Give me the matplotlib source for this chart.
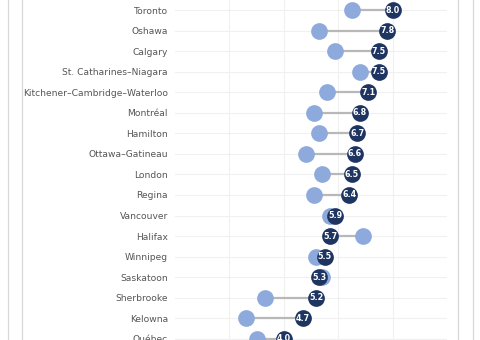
import matplotlib
matplotlib.use("Agg")
import matplotlib.pyplot as plt
from matplotlib.lines import Line2D

cities = ["Toronto", "Oshawa", "Calgary", "St. Catharines–Niagara",
          "Kitchener–Cambridge–Waterloo", "Montréal", "Hamilton",
          "Ottawa–Gatineau", "London", "Regina", "Vancouver", "Halifax",
          "Winnipeg", "Saskatoon", "Sherbrooke", "Kelowna", "Québec"]
current = [8.0, 7.8, 7.5, 7.5, 7.1, 6.8, 6.7, 6.6, 6.5, 6.4, 5.9, 5.7,
           5.5, 5.3, 5.2, 4.7, 4.0]
previous = [6.5, 5.3, 5.9, 6.8, 5.6, 5.1, 5.3, 4.8, 5.4, 5.1, 5.7, 6.9,
            5.2, 5.4, 3.3, 2.6, 3.0]
x_ticks = [2, 4, 6, 8, 10]

W, H = 480, 340
fig = plt.figure(figsize=(4.8, 3.4), dpi=100)
fig.patch.set_facecolor("white")

ax = fig.add_axes([175 / W, 0, (447 - 175) / W, 1])
ypos = list(range(len(cities)))
sp = 20.55
ax.set_ylim(ypos[0] + (H - 10) / sp, ypos[0] - 10 / sp)
ax.set_xlim(0, 10)

for y, a, b in zip(ypos, previous, current):
    ax.plot([a, b], [y, y], color="#b8b8b8", lw=1.6, zorder=2, solid_capstyle="butt")
ax.scatter(previous, ypos, s=145, color="#8eaadc", zorder=3, linewidths=0)
ax.scatter(current, ypos, s=145, color="#1e3461", zorder=4, linewidths=0)
for y, v in zip(ypos, current):
    ax.text(v, y, f"{v:.1f}", color="white", fontsize=5.8, fontweight="bold",
            ha="center", va="center", zorder=5)

ax.set_xticks(x_ticks)
ax.set_xticklabels([])
ax.set_yticks(ypos)
ax.set_yticklabels(cities, fontsize=6.6, color="#555555")
ax.tick_params(axis="both", length=0)
ax.tick_params(axis="y", pad=5)
ax.grid(True, color="#f0f0f0", lw=0.8, zorder=0)
ax.set_axisbelow(True)
for s in ax.spines.values():
    s.set_visible(False)

for xp in [7.5, 22, 457.5, 472.5]:
    fig.add_artist(Line2D([xp / W, xp / W], [0, 1], transform=fig.transFigure,
                          color="#d8d8d8", lw=0.9))

fig.savefig("out.png", dpi=100)
